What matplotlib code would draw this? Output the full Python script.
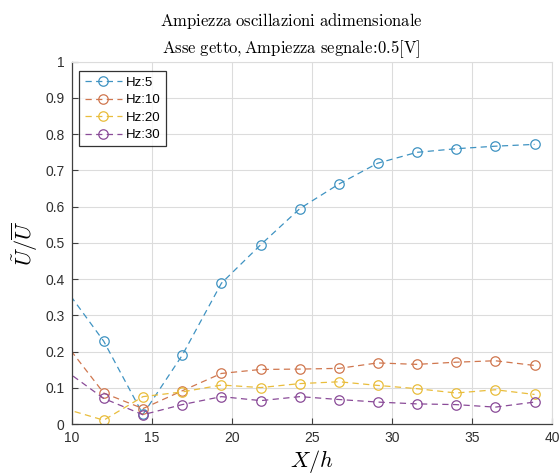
import numpy as np
import matplotlib
matplotlib.use("Agg")
import matplotlib.pyplot as plt

# Station positions along the jet axis (X/h)
x_pos = [9.55, 12.0, 14.45, 16.9, 19.35, 21.8, 24.25, 26.7, 29.1, 31.55, 34.0, 36.45, 38.9]

# Dimensionless oscillation amplitude for each forcing frequency
hz5 = [0.377, 0.229, 0.027, 0.190, 0.389, 0.495, 0.595, 0.663, 0.720, 0.750, 0.760, 0.767, 0.772]
hz10 = [0.226, 0.086, 0.043, 0.092, 0.140, 0.151, 0.152, 0.154, 0.169, 0.165, 0.171, 0.175, 0.162]
hz20 = [0.043, 0.011, 0.076, 0.089, 0.108, 0.101, 0.112, 0.117, 0.107, 0.098, 0.086, 0.095, 0.082]
hz30 = [0.150, 0.071, 0.026, 0.054, 0.076, 0.065, 0.076, 0.068, 0.061, 0.056, 0.054, 0.047, 0.061]

labels = ["Hz:5", "Hz:10", "Hz:20", "Hz:30"]
series = [hz5, hz10, hz20, hz30]
colors = ["#3f93c2", "#d0774f", "#e9bd3c", "#8a4b98"]

x_ticks = [10, 15, 20, 25, 30, 35, 40]
y_ticks = [0, 0.1, 0.2, 0.3, 0.4, 0.5, 0.6, 0.7, 0.8, 0.9, 1]
y_ticklabels = ["0", "0.1", "0.2", "0.3", "0.4", "0.5", "0.6", "0.7", "0.8", "0.9", "1"]

plt.rcParams["mathtext.fontset"] = "cm"
plt.rcParams["font.family"] = ["Liberation Sans", "DejaVu Sans"]

fig = plt.figure(figsize=(5.6, 4.75), dpi=100)
ax = fig.add_axes([0.128, 0.107, 0.858, 0.763])

for vals, lab, col in zip(series, labels, colors):
    ax.plot(x_pos, vals, linestyle=(0, (5, 3.5)), color=col, linewidth=0.9,
            marker="o", markersize=6.8, markerfacecolor="none",
            markeredgecolor=col, markeredgewidth=0.9, label=lab)

ax.set_xlim(10, 40)
ax.set_ylim(0, 1)
ax.set_xticks(x_ticks)
ax.set_yticks(y_ticks)
ax.set_yticklabels(y_ticklabels)
ax.grid(True, color="#dcdcdc", linewidth=0.8)
ax.set_axisbelow(True)

for side in ["top", "right"]:
    ax.spines[side].set_color("#dcdcdc")
    ax.spines[side].set_linewidth(0.8)
for side in ["left", "bottom"]:
    ax.spines[side].set_color("#404040")
    ax.spines[side].set_linewidth(0.9)

ax.tick_params(direction="in", length=4, width=0.8, colors="#404040",
               labelsize=10, labelcolor="#303030", pad=5)

ax.set_xlabel(r"$X/h$", fontsize=16, labelpad=2)
ax.set_ylabel(r"$\tilde{U}/\overline{U}$", fontsize=16, labelpad=4)

title = ax.set_title(r"$\mathrm{Ampiezza\ oscillazioni\ adimensionale}$" + "\n"
                     + r"$\mathrm{Asse\ getto,Ampiezza\ segnale}\!:\!\mathrm{0.5[V]}$",
                     fontsize=12, linespacing=1.5, pad=6)
title.set_x(0.457)

leg = ax.legend(loc="upper left", bbox_to_anchor=(0.008, 0.985), fontsize=9.5,
                frameon=True, fancybox=False, handlelength=2.8,
                borderpad=0.4, labelspacing=0.4, handletextpad=0.3,
                borderaxespad=0.3)
leg.get_frame().set_edgecolor("#000000")
leg.get_frame().set_linewidth(0.9)

fig.savefig("out.png", dpi=100)
